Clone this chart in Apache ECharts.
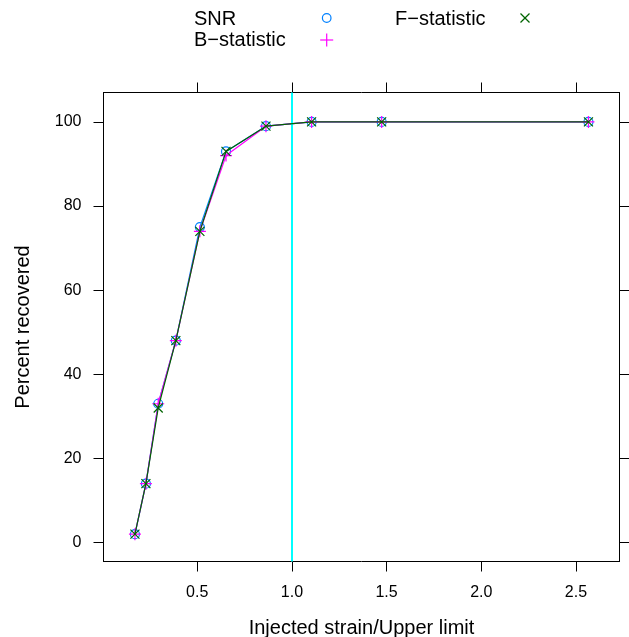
<!DOCTYPE html>
<html>
<head>
<meta charset="utf-8">
<script src="https://cdn.jsdelivr.net/npm/echarts@6/dist/echarts.min.js"></script>
<style>
  html, body { margin: 0; padding: 0; background: #fff; }
  #chart { width: 629px; height: 637px; }
</style>
</head>
<body>
<div id="chart"></div>
<script>
// injected strain relative to the upper limit
var strainRatio = [0.171, 0.229, 0.294, 0.387, 0.514, 0.652, 0.863, 1.104, 1.474, 2.566];
// percent of injections recovered by each detection statistic
var snrPct   = [2, 14, 33, 48, 75, 93, 99, 100, 100, 100];
var bstatPct = [2, 14, 33, 48, 74, 92, 99, 100, 100, 100];
var fstatPct = [2, 14, 32, 48, 74, 93, 99, 100, 100, 100];
var upperLimit = 1.0;
var xTicks = [0.5, 1.0, 1.5, 2.0, 2.5];
var yTicks = [0, 20, 40, 60, 80, 100];

var FONT = '"Liberation Sans", Arial, Helvetica, sans-serif';
var PLUS = 'path://M0,5 L10,5 M5,0 L5,10';
var CROSS = 'path://M0,0 L10,10 M0,10 L10,0';

function pairs(xs, ys){
	var out = [];
	for (var i=0; i<xs.length; i++){
		out.push([xs[i], ys[i]]);
	}
	return out;
}

function makeSeries(name, ys, col, symbol, size, fill){
	return {
		type: 'line',
		name: name,
		data: pairs(strainRatio, ys),
		symbol: symbol,
		symbolSize: size,
		showAllSymbol: true,
		animation: false,
		lineStyle: {color: col, width: 1.2},
		itemStyle: {color: fill, borderColor: col, borderWidth: 1.2},
		emphasis: {disabled: true}
	};
}

var xMin = 0.005, xMax = 2.73;
var yMin = -4.5, yMax = 107;

function xAxisDef(pos, labels){
	return {
		type: 'value', position: pos, min: xMin, max: xMax,
		splitLine: {show: false},
		axisLine: {show: true, onZero: false, lineStyle: {color: '#000', width: 1}},
		axisTick: {show: true, length: 10, customValues: xTicks, lineStyle: {color: '#000', width: 1}},
		axisLabel: {show: labels, customValues: xTicks, margin: 23, fontSize: 16, color: '#000', fontFamily: FONT,
			formatter: function(v){ return v.toFixed(1); }},
		name: labels ? 'Injected strain/Upper limit' : '',
		nameLocation: 'middle', nameGap: 57,
		nameTextStyle: {fontSize: 20, color: '#000', fontFamily: FONT}
	};
}

function yAxisDef(pos, labels){
	return {
		type: 'value', position: pos, min: yMin, max: yMax,
		splitLine: {show: false},
		axisLine: {show: true, onZero: false, lineStyle: {color: '#000', width: 1}},
		axisTick: {show: true, length: 10, customValues: yTicks, lineStyle: {color: '#000', width: 1}},
		axisLabel: {show: labels, customValues: yTicks, margin: 22, fontSize: 16, color: '#000', fontFamily: FONT},
		name: labels ? 'Percent recovered' : '',
		nameLocation: 'middle', nameGap: 70, nameRotate: 90,
		nameTextStyle: {fontSize: 20, color: '#000', fontFamily: FONT}
	};
}

var snr = makeSeries('SNR', snrPct, '#0080ff', 'circle', 9, 'rgba(0,0,0,0)');
snr.markLine = {
	silent: true, symbol: 'none', animation: false,
	label: {show: false},
	lineStyle: {color: '#00ffff', type: 'solid', width: 2},
	data: [{xAxis: upperLimit}]
};
snr.z = 3;
var bstat = makeSeries('B\u2212statistic', bstatPct, '#ff00ff', PLUS, 12, '#ff00ff');
bstat.z = 4;
var fstat = makeSeries('F\u2212statistic', fstatPct, '#006400', CROSS, 9, '#006400');
fstat.z = 5;

// key at the top: text column then symbol column, like lattice
var keyText = {fontSize: 20, fill: '#000', fontFamily: FONT, verticalAlign: 'middle'};
function keyLabel(x, y, s){
	return {type: 'text', x: x, y: y, style: Object.assign({text: s}, keyText)};
}
function keyLine(pts, col){
	return {type: 'polyline', shape: {points: pts}, style: {stroke: col, lineWidth: 1.2, fill: null}};
}

var option = {
	backgroundColor: '#fff',
	animation: false,
	grid: {left: 103.5, top: 92.5, right: 9.5, bottom: 75.5, containLabel: false, outerBoundsMode: 'none'},
	xAxis: [xAxisDef('bottom', true), xAxisDef('top', false)],
	yAxis: [yAxisDef('left', true), yAxisDef('right', false)],
	series: [snr, bstat, fstat],
	graphic: [
		keyLabel(194, 19.5, 'SNR'),
		keyLabel(395, 19.5, 'F\u2212statistic'),
		keyLabel(194, 40.5, 'B\u2212statistic'),
		{type: 'circle', shape: {cx: 326.7, cy: 18, r: 4.3}, style: {stroke: '#0080ff', lineWidth: 1.2, fill: null}},
		keyLine([[320.2, 40], [333.2, 40]], '#ff00ff'),
		keyLine([[326.7, 33.5], [326.7, 46.5]], '#ff00ff'),
		keyLine([[520.5, 13.5], [529.5, 22.5]], '#006400'),
		keyLine([[520.5, 22.5], [529.5, 13.5]], '#006400')
	]
};

var chart = echarts.init(document.getElementById('chart'), null, {renderer: 'canvas'});
chart.setOption(option);
</script>
</body>
</html>
